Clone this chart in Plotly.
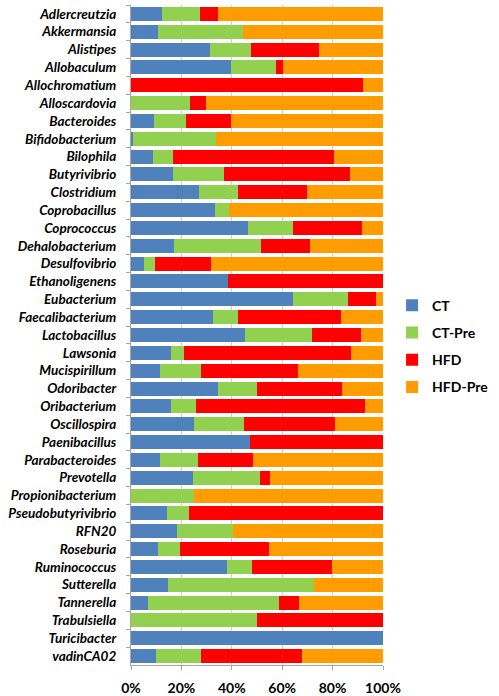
import plotly.graph_objects as go

categories = ["Adlercreutzia", "Akkermansia", "Alistipes", "Allobaculum", "Allochromatium",
              "Alloscardovia", "Bacteroides", "Bifidobacterium", "Bilophila", "Butyrivibrio",
              "Clostridium", "Coprobacillus", "Coprococcus", "Dehalobacterium", "Desulfovibrio",
              "Ethanoligenens", "Eubacterium", "Faecalibacterium", "Lactobacillus", "Lawsonia",
              "Mucispirillum", "Odoribacter", "Oribacterium", "Oscillospira", "Paenibacillus",
              "Parabacteroides", "Prevotella", "Propionibacterium", "Pseudobutyrivibrio", "RFN20",
              "Roseburia", "Ruminococcus", "Sutterella", "Tannerella", "Trabulsiella",
              "Turicibacter", "vadinCA02"]

ct = [12.3, 10.7, 31.4, 39.6, 0, 0, 9.0, 0.7, 8.7, 16.8,
      27.0, 33.2, 46.5, 17.1, 5.3, 38.5, 64.4, 32.7, 45.3, 15.9,
      11.4, 34.7, 15.8, 25.0, 47.3, 11.5, 24.6, 0, 14.3, 18.3,
      10.9, 38.1, 14.6, 6.8, 0, 100, 9.8]
ct_pre = [15.2, 33.7, 16.1, 17.9, 0, 23.3, 12.9, 33.1, 8.0, 20.2,
          15.5, 5.5, 17.7, 34.3, 4.1, 0, 21.8, 9.8, 26.6, 5.2,
          16.4, 15.4, 10.0, 19.8, 0, 15.0, 26.7, 25.0, 8.9, 22.2,
          8.4, 10.0, 58.0, 52.0, 49.9, 0, 18.1]
hfd = [6.9, 0, 27.2, 2.9, 92.1, 6.6, 17.7, 0, 64.0, 50.0,
       27.4, 0, 27.6, 19.7, 22.5, 61.5, 10.9, 40.8, 19.5, 66.2,
       38.3, 33.7, 66.9, 36.3, 52.7, 21.8, 3.7, 0, 76.8, 0,
       35.5, 31.6, 0, 7.7, 50.1, 0, 40.0]
hfd_pre = [65.6, 55.6, 25.3, 39.6, 7.9, 70.1, 60.4, 66.2, 19.3, 13.0,
           30.1, 61.3, 8.2, 28.9, 68.1, 0, 2.9, 16.7, 8.6, 12.7,
           33.9, 16.2, 7.3, 18.9, 0, 51.7, 45.0, 75.0, 0, 59.5,
           45.2, 20.3, 27.4, 33.5, 0, 0, 32.1]

series_names = ["CT", "CT-Pre", "HFD", "HFD-Pre"]
series_values = [ct, ct_pre, hfd, hfd_pre]
colors = ["#4F81BD", "#92D050", "#FF0000", "#FF9C00"]
x_tickvals = [0, 20, 40, 60, 80, 100]
x_ticktext = ["0%", "20%", "40%", "60%", "80%", "100%"]

fig = go.Figure()
for name, vals, col in zip(series_names, series_values, colors):
    fig.add_trace(go.Bar(
        y=categories, x=vals, name=name, orientation="h",
        marker=dict(color=col, line=dict(width=0)),
        legendgroup=name,
    ))

fig.update_layout(
    width=499, height=696,
    barmode="stack", barnorm="percent", bargap=0.215,
    plot_bgcolor="white", paper_bgcolor="white",
    margin=dict(l=131, r=116, t=5, b=31, pad=0, autoexpand=False),
    font=dict(family="Lato", color="#000000"),
    legend=dict(
        x=1.036, xanchor="left", y=0.483, yanchor="middle",
        traceorder="grouped", tracegroupgap=6,
        font=dict(family="Lato", size=14, weight="bold"),
        itemwidth=30,
    ),
    showlegend=True,
)

fig.update_xaxes(
    range=[0, 100], tickvals=x_tickvals, ticktext=x_ticktext,
    showgrid=True, gridcolor="#D0D0D0", gridwidth=1,
    showline=True, linecolor="#A6A6A6", linewidth=1,
    ticks="outside", ticklen=4, tickcolor="#A6A6A6",
    tickfont=dict(family="Lato", size=14, weight="bold"),
    ticklabelstandoff=6,
    zeroline=False, automargin=False,
)
fig.update_yaxes(
    autorange="reversed", type="category",
    showline=True, linecolor="#A6A6A6", linewidth=1,
    ticks="outside", ticklen=4, tickcolor="#A6A6A6", tickson="boundaries",
    tickfont=dict(family="Lato", size=13.5, weight="bold", style="italic"),
    ticklabelstandoff=11,
    showgrid=False, automargin=False,
)

fig.write_html("out.html", config={"displayModeBar": False},
               post_script="document.body.style.margin='0';")
